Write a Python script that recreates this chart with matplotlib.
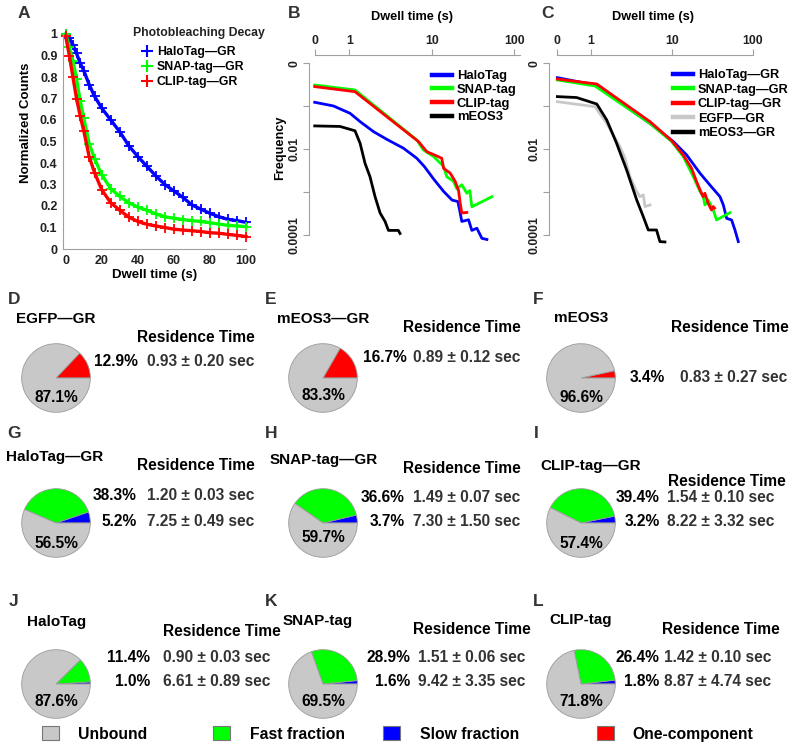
import matplotlib
matplotlib.use('Agg')
import matplotlib.pyplot as plt
from matplotlib.lines import Line2D
from matplotlib.patches import Patch
from matplotlib.ticker import NullLocator

plt.rcParams['font.family'] = ['Liberation Sans', 'DejaVu Sans']
plt.rcParams['font.weight'] = 'bold'

# ---- panel A: photobleaching decay ----
time_a = [0, 2, 4, 6, 8, 10, 13, 16, 20, 25, 30, 35, 40, 45, 50, 55, 60, 65, 70, 75, 80, 85, 90, 95, 100]
halo_a = [1.0, 0.98, 0.95, 0.91, 0.865, 0.83, 0.765, 0.71, 0.655, 0.60, 0.545, 0.48, 0.43, 0.385, 0.34,
          0.30, 0.27, 0.24, 0.205, 0.185, 0.166, 0.15, 0.138, 0.132, 0.124]
snap_a = [1.0, 0.94, 0.875, 0.79, 0.69, 0.61, 0.49, 0.42, 0.345, 0.28, 0.245, 0.215, 0.195, 0.18, 0.163,
          0.15, 0.143, 0.137, 0.132, 0.128, 0.122, 0.116, 0.11, 0.107, 0.104]
clip_a = [0.99, 0.90, 0.80, 0.70, 0.62, 0.55, 0.43, 0.355, 0.275, 0.215, 0.18, 0.148, 0.128, 0.115, 0.107,
          0.10, 0.092, 0.088, 0.085, 0.081, 0.076, 0.073, 0.068, 0.063, 0.058]
labels_a = ['HaloTag—GR', 'SNAP-tag—GR', 'CLIP-tag—GR']

# ---- panel B: dwell time distributions, tags alone ----
halo_b_t = [0.38, 0.64, 1.02, 1.35, 1.96, 2.84, 4.53, 6.57, 8.1, 10.6, 13.9, 17.6, 20.7, 22.1, 23.1, 27.9, 30.6, 35.2, 40.5, 46.6]
halo_b_f = [0.124, 0.102, 0.0687, 0.044, 0.0258, 0.0171, 0.0106, 0.0062, 0.0040, 0.0020, 0.00105, 0.00066,
            0.00061, 0.00033, 0.00021, 0.00023, 0.00013, 0.000146, 0.000085, 0.00008]
snap_b_t = [0.38, 1.17, 2.84, 6.57, 7.92, 10.5, 13.9, 15.2, 18.3, 20.1, 23.1, 26.6, 28.9, 30.6, 53.5]
snap_b_f = [0.313, 0.24, 0.0607, 0.0165, 0.0096, 0.0068, 0.0040, 0.0023, 0.0018, 0.0012, 0.0015, 0.00095,
            0.0011, 0.00046, 0.00079]
clip_b_t = [0.38, 1.17, 6.9, 8.7, 11.5, 13.2, 13.9, 16.7, 19.2, 21.1, 22.1, 23.1, 26.6]
clip_b_f = [0.287, 0.219, 0.0151, 0.0088, 0.0070, 0.0062, 0.0036, 0.0028, 0.0018, 0.0011, 0.00056, 0.00033, 0.00034]
meos_b_t = [0.38, 0.77, 1.17, 1.35, 1.55, 1.78, 2.05, 2.36, 2.71, 2.98, 3.93, 4.12]
meos_b_f = [0.035, 0.034, 0.027, 0.0138, 0.0047, 0.0023, 0.00079, 0.00033, 0.00021, 0.00013, 0.00013, 0.00011]
labels_b = ['HaloTag', 'SNAP-tag', 'CLIP-tag', 'mEOS3']

# ---- panel C: dwell time distributions, GR fusions ----
halo_c_t = [0.388, 1.13, 5.4, 10.5, 15.3, 22.4, 29.6, 39.5, 43.4, 47.7, 54.9, 60.4, 66.4]
halo_c_f = [0.464, 0.313, 0.040, 0.0151, 0.00738, 0.00277, 0.00148, 0.00079, 0.000507, 0.000248, 0.000227,
            0.000133, 0.0000713]
snap_c_t = [0.388, 1.13, 5.4, 10.0, 13.9, 18.5, 22.4, 24.5, 25.7, 28.2, 32.6, 35.8, 52.3]
snap_c_f = [0.41, 0.297, 0.040, 0.0151, 0.0068, 0.00231, 0.00104, 0.00079, 0.000507, 0.000664, 0.000388,
            0.000227, 0.000336]
clip_c_t = [0.388, 1.19, 5.4, 10.0, 13.9, 17.6, 20.3, 22.4, 24.5, 25.7, 28.2, 31.0, 32.6, 33.8]
clip_c_f = [0.43, 0.33, 0.044, 0.0159, 0.00738, 0.00361, 0.00177, 0.00113, 0.00079, 0.00095, 0.000555,
            0.000388, 0.000465, 0.00043]
egfp_c_t = [0.388, 1.13, 1.58, 2.3, 2.65, 3.06, 3.7, 4.06, 4.46, 4.68, 5.4]
egfp_c_f = [0.128, 0.098, 0.040, 0.0115, 0.0062, 0.00231, 0.00104, 0.00079, 0.00087, 0.000465, 0.000507]
meos_c_t = [0.388, 0.67, 1.19, 1.58, 2.09, 2.78, 3.7, 4.46, 5.14, 6.5, 7.16, 8.25]
meos_c_f = [0.168, 0.16, 0.113, 0.048, 0.0138, 0.0033, 0.000664, 0.000272, 0.000133, 0.000133, 0.0000713, 0.00007]
labels_c = ['HaloTag—GR', 'SNAP-tag—GR', 'CLIP-tag—GR', 'EGFP—GR', 'mEOS3—GR']

# ---- pies D-L ----
pie_letters = ['D', 'E', 'F', 'G', 'H', 'I', 'J', 'K', 'L']
pie_titles = ['EGFP—GR', 'mEOS3—GR', 'mEOS3', 'HaloTag—GR', 'SNAP-tag—GR', 'CLIP-tag—GR',
              'HaloTag', 'SNAP-tag', 'CLIP-tag']
one_comp = [12.9, 16.7, 3.4]
one_unbound = [87.1, 83.3, 96.6]
one_times = ['0.93 ± 0.20', '0.89 ± 0.12', '0.83 ± 0.27']
fast = [38.3, 36.6, 39.4, 11.4, 28.9, 26.4]
slow = [5.2, 3.7, 3.2, 1.0, 1.6, 1.8]
two_unbound = [56.5, 59.7, 57.4, 87.6, 69.5, 71.8]
fast_times = ['1.20 ± 0.03', '1.49 ± 0.07', '1.54 ± 0.10', '0.90 ± 0.03', '1.51 ± 0.06', '1.42 ± 0.10']
slow_times = ['7.25 ± 0.49', '7.30 ± 1.50', '8.22 ± 3.32', '6.61 ± 0.89', '9.42 ± 3.35', '8.87 ± 4.74']
legend_labels = ['Unbound', 'Fast fraction', 'Slow fraction', 'One-component']

GRAY, GREEN, BLUE, RED = '#c8c8c8', '#00ff00', '#0000ff', '#ff0000'
SPINE = '#a0a0a0'

W, H = 800, 749
fig = plt.figure(figsize=(8, 7.49), dpi=100)


def fx(x):
    return x / W


def fy(y):
    return 1 - y / H


def put(x, y, s, **kw):
    kw.setdefault('va', 'center')
    kw.setdefault('fontweight', 'bold')
    fig.text(fx(x), fy(y), s, **kw)


def axes_px(l, t, r, b):
    return fig.add_axes([fx(l), fy(b), (r - l) / W, (b - t) / H])


# panel letters
for s, x, y in [('A', 24, 14), ('B', 294, 14), ('C', 547, 14)]:
    put(x, y, s, fontsize=12.5, ha='center', color='#333333')

# ---------- A ----------
axA = axes_px(63, 34, 246, 249)
for vals, c in zip([halo_a, snap_a, clip_a], [BLUE, GREEN, RED]):
    axA.plot(time_a, vals, color=c, lw=2.4, marker='+', ms=7, mew=1.3, clip_on=False)
axA.set_xlim(-1.5, 100)
axA.set_ylim(0, 1)
for sp in ['top', 'right']:
    axA.spines[sp].set_visible(False)
for sp in ['left', 'bottom']:
    axA.spines[sp].set_color(SPINE)
axA.set_xticks([0, 20, 40, 60, 80, 100])
axA.set_yticks([i / 10 for i in range(11)])
axA.set_yticklabels(['0'] + [f'0.{i}' for i in range(1, 10)] + ['1'])
axA.tick_params(length=0, labelsize=9, pad=4, labelcolor='#222222')
put(155, 275, 'Dwell time (s)', fontsize=9.5, ha='center')
put(26, 123, 'Normalized Counts', fontsize=9.5, ha='center', rotation=90)
put(133, 33, 'Photobleaching Decay', fontsize=8.8, ha='left', color='#222222')
handles_a = [Line2D([], [], color=c, marker='+', ls='none', ms=8, mew=1.5) for c in [BLUE, GREEN, RED]]
axA.legend(handles_a, labels_a, loc='upper left', bbox_to_anchor=(fx(141), fy(46)),
           bbox_transform=fig.transFigure, frameon=False, fontsize=8.8, handlelength=1.0,
           handletextpad=0.3, labelspacing=0.25, borderpad=0, borderaxespad=0)


# ---------- B and C ----------
def log_axes(ax, xr):
    ax.set_xscale('log')
    ax.set_yscale('log')
    ax.xaxis.tick_top()
    ax.set_xticks([0.38, 1, 10, 100])
    ax.set_xticklabels(['0', '1', '10', '100'])
    ax.set_yticks([1, 0.1, 0.01, 0.001, 0.0001])
    ax.set_yticklabels(['0', '', '0.01', '', '0.0001'], rotation=90, va='center')
    ax.xaxis.set_minor_locator(NullLocator())
    ax.yaxis.set_minor_locator(NullLocator())
    for sp in ['bottom', 'right']:
        ax.spines[sp].set_visible(False)
    for sp in ['top', 'left']:
        ax.spines[sp].set_color(SPINE)
    ax.spines['top'].set_bounds(0.38, xr)
    ax.spines['left'].set_bounds(1e-4, 1)
    ax.tick_params(color=SPINE, length=4, labelsize=8.8, pad=2, labelcolor='#222222')


axB = axes_px(309, 55, 525, 245)
for t, f, c in zip([halo_b_t, snap_b_t, clip_b_t, meos_b_t], [halo_b_f, snap_b_f, clip_b_f, meos_b_f],
                   [BLUE, GREEN, RED, 'black']):
    axB.plot(t, f, color=c, lw=2)
axB.set_xlim(0.324, 135)
axB.set_ylim(5.95e-5, 1.56)
log_axes(axB, 117)
put(412, 17, 'Dwell time (s)', fontsize=9.2, ha='center')
put(280, 148, 'Frequency', fontsize=9.2, ha='center', rotation=90)
hb = [Line2D([], [], color=c, lw=3.2) for c in [BLUE, GREEN, RED, 'black']]
axB.legend(hb, labels_b, loc='upper left', bbox_to_anchor=(fx(432), fy(70)), bbox_transform=fig.transFigure,
           frameon=False, fontsize=9.4, handlelength=1.5, handletextpad=0.4, labelspacing=0.12,
           borderpad=0, borderaxespad=0)

axC = axes_px(549, 55, 765, 245)
for t, f, c in zip([halo_c_t, snap_c_t, clip_c_t, egfp_c_t, meos_c_t],
                   [halo_c_f, snap_c_f, clip_c_f, egfp_c_f, meos_c_f],
                   [BLUE, GREEN, RED, '#c8c8c8', 'black']):
    axC.plot(t, f, color=c, lw=2)
axC.set_xlim(0.306, 10 ** ((765 - 590.7) / 81))
axC.set_ylim(5.95e-5, 1.56)
log_axes(axC, 100)
put(653, 17, 'Dwell time (s)', fontsize=9.2, ha='center')
hc = [Line2D([], [], color=c, lw=3.2) for c in [BLUE, GREEN, RED, '#c8c8c8', 'black']]
axC.legend(hc, labels_c, loc='upper left', bbox_to_anchor=(fx(673), fy(69)), bbox_transform=fig.transFigure,
           frameon=False, fontsize=9.2, handlelength=1.55, handletextpad=0.4, labelspacing=0.2,
           borderpad=0, borderaxespad=0)

# ---------- pies ----------
# layout in pixels: pie centre, letter, title, "Residence Time", percent right edge, time left edge, row ys, label y
layout = [
    dict(cx=56, cy=378, let=(14, 299), title=(56, 319), res=(137, 337), px=138, sx=147, rows=[361], lab=397),
    dict(cx=323, cy=378, let=(271, 299), title=(323, 319), res=(403, 328), px=407, sx=413, rows=[358], lab=395),
    dict(cx=581, cy=378, let=(538, 299), title=(581, 318), res=(671, 328), px=665, sx=680, rows=[377], lab=397),
    dict(cx=56, cy=523, let=(14, 434), title=(55, 457), res=(137, 466), px=137, sx=147, rows=[496, 522], lab=543),
    dict(cx=323, cy=523, let=(271, 434), title=(324, 460), res=(403, 469), px=405, sx=413, rows=[497, 522], lab=538),
    dict(cx=581, cy=523, let=(536, 434), title=(591, 466), res=(668, 481), px=660, sx=667, rows=[497, 521], lab=543),
    dict(cx=56, cy=684, let=(14, 602), title=(57, 622), res=(163, 631), px=150, sx=163, rows=[657, 682], lab=702),
    dict(cx=323, cy=684, let=(271, 602), title=(318, 621), res=(413, 630), px=410, sx=418, rows=[657, 682], lab=702),
    dict(cx=581, cy=684, let=(538, 602), title=(581, 620), res=(662, 630), px=659, sx=664, rows=[657, 682], lab=702),
]
R = 35
FS = 11.2
for i, lay in enumerate(layout):
    ax = axes_px(lay['cx'] - R, lay['cy'] - R, lay['cx'] + R, lay['cy'] + R)
    if i < 3:
        sizes = [one_comp[i], one_unbound[i]]
        cols = [RED, GRAY]
        pcts = [one_comp[i]]
        times = [one_times[i]]
        lab = one_unbound[i]
    else:
        j = i - 3
        sizes = [slow[j], fast[j], two_unbound[j]]
        cols = [BLUE, GREEN, GRAY]
        pcts = [fast[j], slow[j]]
        times = [fast_times[j], slow_times[j]]
        lab = two_unbound[j]
    ax.pie(sizes, colors=cols, startangle=0, counterclock=True, radius=1,
           wedgeprops=dict(edgecolor='#9a9a9a', linewidth=0.6))
    ax.set_xlim(-1.02, 1.02)
    ax.set_ylim(-1.02, 1.02)
    put(*lay['let'], pie_letters[i], fontsize=12.5, ha='center', color='#333333')
    put(*lay['title'], pie_titles[i], fontsize=11, ha='center')
    put(*lay['res'], 'Residence Time', fontsize=FS, ha='left')
    for y, p, t in zip(lay['rows'], pcts, times):
        put(lay['px'], y, f'{p:.1f}%', fontsize=FS, ha='right')
        put(lay['sx'], y, f'{t} sec', fontsize=FS, ha='left', color='#333333')
    put(lay['cx'], lay['lab'], f'{lab:.1f}%', fontsize=FS, ha='center')

# ---------- bottom legend ----------
for lab, c, xs, xt in zip(legend_labels, [GRAY, GREEN, BLUE, RED], [42, 213, 383, 597], [78, 250, 420, 632]):
    fs = 11.3 * 100 / 72
    fig.legend([Patch(facecolor=c, edgecolor='#777777', linewidth=0.8)], [lab], loc='center left',
               bbox_to_anchor=(fx(xs), fy(734)), frameon=False, fontsize=11.3,
               handlelength=17 / fs, handleheight=15 / fs, handletextpad=(xt - xs - 17) / fs,
               borderpad=0, borderaxespad=0)

fig.savefig('out.png', dpi=100)
